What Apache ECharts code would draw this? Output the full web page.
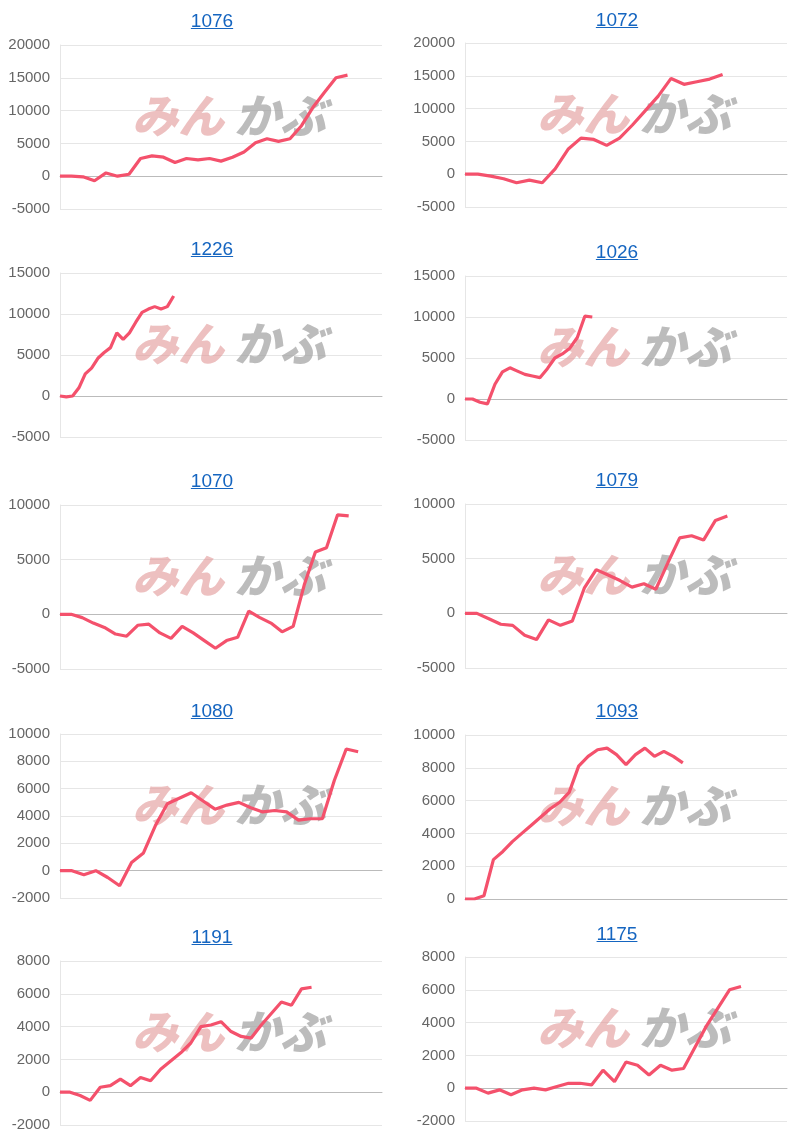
<!DOCTYPE html>
<html>
<head>
<meta charset="UTF-8">
<title>収支推移</title>
<script src="https://cdn.jsdelivr.net/npm/echarts@6/dist/echarts.min.js"></script>
<style>
  body{margin:0;background:#fff;font-family:"Liberation Sans",Arial,sans-serif;}
  #main{position:absolute;left:0;top:0;width:810px;height:1145px;}
  .ttl{position:absolute;width:120px;margin-left:-60px;text-align:center;font-size:19px;color:#1565c0;text-decoration:underline;}
</style>
</head>
<body>
<div id="main"></div>
<div id="titles"></div>
<script>
// 台番号
var titles = ['1076', '1072', '1226', '1026', '1070', '1079', '1080', '1093', '1191', '1175'];
// x軸のカテゴリ数
var catCounts = [29, 26, 52, 44, 30, 28, 28, 35, 33, 29];
// y軸の範囲
var yMin = [-5000, -5000, -5000, -5000, -5000, -5000, -2000, 0, -2000, -2000];
var yMax = [20000, 20000, 15000, 15000, 10000, 10000, 10000, 10000, 8000, 8000];
var yStep = [5000, 5000, 5000, 5000, 5000, 5000, 2000, 2000, 2000, 2000];
// 差枚推移
var s1076 = [0, 0, -100, -700, 500, 0, 300, 2700, 3100, 2900, 2100, 2700, 2500, 2700, 2300, 2900, 3700, 5100, 5700, 5300, 5700, 7700, 10500, 12800, 15000, 15400];
var s1072 = [0, 0, -300, -700, -1300, -900, -1300, 800, 3800, 5500, 5300, 4400, 5500, 7500, 9700, 11900, 14600, 13700, 14100, 14500, 15200];
var s1226 = [0, -100, 0, 1000, 2700, 3400, 4600, 5300, 5900, 7700, 6900, 7700, 9000, 10200, 10600, 10900, 10600, 10900, 12200];
var s1026 = [0, 0, -400, -600, 1800, 3300, 3800, 3400, 3000, 2800, 2600, 3700, 5000, 5500, 6200, 7500, 10100, 10000];
var s1070 = [0, 0, -300, -800, -1200, -1800, -2000, -1000, -900, -1700, -2200, -1100, -1700, -2400, -3100, -2400, -2100, 300, -300, -800, -1600, -1100, 2700, 5700, 6100, 9100, 9000];
var s1079 = [0, 0, -500, -1000, -1100, -2000, -2400, -600, -1100, -700, 2300, 4000, 3500, 3000, 2400, 2700, 2200, 4600, 6900, 7100, 6700, 8500, 8900];
var s1080 = [0, 0, -300, 0, -500, -1100, 600, 1300, 3300, 4900, 5300, 5700, 5100, 4500, 4800, 5000, 4600, 4300, 4400, 4300, 3700, 3800, 3800, 6600, 8900, 8700];
var s1093 = [0, 0, 200, 2400, 2900, 3500, 4000, 4500, 5000, 5500, 5900, 6500, 8100, 8700, 9100, 9200, 8800, 8200, 8800, 9200, 8700, 9000, 8700, 8300];
var s1191 = [0, 0, -200, -500, 300, 400, 800, 400, 900, 700, 1400, 1900, 2400, 3000, 4000, 4100, 4300, 3700, 3400, 3300, 4100, 4800, 5500, 5300, 6300, 6400];
var s1175 = [0, 0, -300, -100, -400, -100, 0, -100, 100, 300, 300, 200, 1100, 400, 1600, 1400, 800, 1400, 1100, 1200, 2500, 3800, 4900, 6000, 6200];

var seriesData = [s1076, s1072, s1226, s1026, s1070, s1079, s1080, s1093, s1191, s1175];
var plotTop = [45, 43, 273, 276, 505, 504, 734, 735, 961, 957];
var titleY = [22, 21, 250, 253, 482, 481, 712, 712, 938, 935];

var myChart = echarts.init(document.getElementById('main'));
var grids = [], xAxes = [], yAxes = [], series = [], graphics = [];
var titleHtml = '';
for (var i = 0; i < 10; i++) {
    var col = i % 2;
    var left = col * 405 + 60;
    grids.push({left: left, top: plotTop[i], width: 322, height: 164});
    var cats = [];
    for (var c = 0; c < catCounts[i]; c++) cats.push(String(c + 1));
    xAxes.push({
        type: 'category', gridIndex: i, data: cats, boundaryGap: false,
        axisLabel: {show: false}, axisTick: {show: false},
        axisLine: {lineStyle: {color: '#bbb'}}
    });
    yAxes.push({
        type: 'value', gridIndex: i, min: yMin[i], max: yMax[i], interval: yStep[i],
        axisLine: {show: true, lineStyle: {color: '#e6e6e6'}},
        axisLabel: {color: '#666', fontSize: 15, margin: 10, fontFamily: 'Liberation Sans',
            formatter: function (v) { return String(v); }},
        splitLine: {lineStyle: {color: '#e6e6e6'}}
    });
    series.push({
        type: 'line', xAxisIndex: i, yAxisIndex: i, data: seriesData[i],
        showSymbol: false, z: 10,
        lineStyle: {color: '#f4516c', width: 3.2}
    });
    // みんかぶロゴ風の透かし
    graphics.push({
        type: 'text', left: col * 405 + 132, top: plotTop[i] + 48, z: 1,
        style: {text: 'みん', font: 'italic 900 46px "Noto Sans CJK JP"', fill: 'rgba(225,150,150,0.6)'}
    });
    graphics.push({
        type: 'text', left: col * 405 + 234, top: plotTop[i] + 48, z: 1,
        style: {text: 'かぶ', font: 'italic 900 46px "Noto Sans CJK JP"', fill: 'rgba(160,160,160,0.7)'}
    });
    titleHtml += '<a class="ttl" style="left:' + (col * 405 + 212) + 'px;top:' + (titleY[i] - 12) + 'px">' + titles[i] + '</a>';
}
document.getElementById('titles').innerHTML = titleHtml;

option = {
    animation: false,
    grid: grids,
    xAxis: xAxes,
    yAxis: yAxes,
    series: series,
    graphic: graphics
};
myChart.setOption(option);
</script>
</body>
</html>
